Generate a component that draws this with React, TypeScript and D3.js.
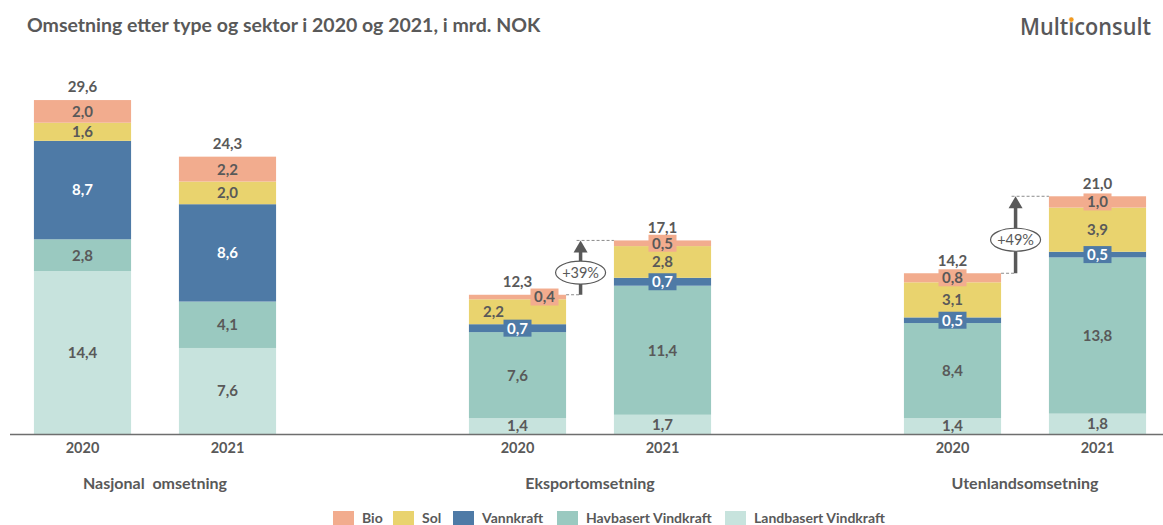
import React, { useEffect, useRef, useState } from "react";
import * as d3 from "d3";

const title = "Omsetning etter type og sektor i 2020 og 2021, i mrd. NOK";
const categories = ["Nasjonal  omsetning", "Eksportomsetning", "Utenlandsomsetning"];
const years = ["2020", "2021"];
const seriesNames = ["Landbasert Vindkraft", "Havbasert Vindkraft", "Vannkraft", "Sol", "Bio"];
const landbasert = [14.4, 7.6, 1.4, 1.7, 1.4, 1.8];
const havbasert = [2.8, 4.1, 7.6, 11.4, 8.4, 13.8];
const vannkraft = [8.7, 8.6, 0.7, 0.7, 0.5, 0.5];
const sol = [1.6, 2.0, 2.2, 2.8, 3.1, 3.9];
const bio = [2.0, 2.2, 0.4, 0.5, 0.8, 1.0];
const totals = [29.6, 24.3, 12.3, 17.1, 14.2, 21.0];
const growthLabels = ["+39%", "+49%"];
const growthPairs = [[2, 3], [4, 5]];
const legendOrder = ["Bio", "Sol", "Vannkraft", "Havbasert Vindkraft", "Landbasert Vindkraft"];

const colors: Record<string, string> = {
  Bio: "#F2AC8E",
  Sol: "#E9D36E",
  Vannkraft: "#4E7AA6",
  "Havbasert Vindkraft": "#9AC9C0",
  "Landbasert Vindkraft": "#C7E3DD",
};

const W = 1163;
const H = 525;
const FONT = "Lato, 'Open Sans', sans-serif";
const TXT = "#595959";
const fmt = (v: number) => d3.format(".1f")(v).replace(".", ",");

export default function App() {
  const logoRef = useRef<SVGTextElement>(null);
  const [dot, setDot] = useState<{ x: number; y: number } | null>(null);

  useEffect(() => {
    const t = logoRef.current;
    if (t) {
      try {
        const ext = t.getExtentOfChar(4);
        setDot({ x: ext.x + ext.width / 2, y: ext.y + ext.height * 0.3 });
      } catch (e) {}
    }
  }, []);

  const seriesArrays = [landbasert, havbasert, vannkraft, sol, bio];
  const rows = landbasert.map((_, i) => {
    const r: any = { idx: i };
    seriesNames.forEach((s, k) => (r[s] = seriesArrays[k][i]));
    return r;
  });
  const stacked = d3.stack<any>().keys(seriesNames)(rows);

  const baseY = 434;
  const y = d3.scaleLinear().domain([0, 30]).range([baseY, baseY - 30 * 11.32]);
  const slotOf = [0, 1, 3, 4, 6, 7];
  const x = d3
    .scaleBand<number>()
    .domain(d3.range(8))
    .range([10, 1170])
    .paddingInner(0.33)
    .paddingOuter(0.165);
  const bw = x.bandwidth();
  const bx = (i: number) => x(slotOf[i]) as number;
  const cx = (i: number) => bx(i) + bw / 2;

  // layout nudges for crowded labels (bar index + series)
  const nudge: Record<string, number> = { "2-Bio": 27, "2-Sol": -24 };

  const boxW = 28;
  const boxH = 17;

  return (
    <div style={{ position: "absolute", left: 0, top: 0 }}>
      <svg width={W} height={H} style={{ display: "block", background: "#fff" }} fontFamily={FONT}>
        <text x={27} y={32} fontSize={19.5} fontWeight={700} fill={TXT}>
          {title}
        </text>
        <text
          ref={logoRef}
          x={1020}
          y={35}
          fontSize={23}
          fontWeight={600}
          fill="#58585A"
          fontFamily="'Open Sans', sans-serif"
          textLength={131}
          lengthAdjust="spacingAndGlyphs"
        >
          Multiconsult
        </text>
        {dot && <circle cx={dot.x} cy={dot.y} r={2.6} fill="#F39A1E" stroke="#fff" strokeWidth={0.6} />}

        {/* bars */}
        {stacked.map((layer) =>
          layer.map((d, i) => (
            <rect
              key={layer.key + i}
              x={bx(i)}
              width={bw}
              y={y(d[1])}
              height={y(d[0]) - y(d[1])}
              fill={colors[layer.key]}
            />
          ))
        )}

        {/* axis */}
        <line x1={10} x2={W} y1={baseY + 0.5} y2={baseY + 0.5} stroke="#6E6E6E" strokeWidth={1.3} />

        {/* segment labels */}
        {stacked.map((layer) =>
          layer.map((d, i) => {
            const v = d[1] - d[0];
            const mid = (y(d[0]) + y(d[1])) / 2;
            const lx = cx(i) + (nudge[i + "-" + layer.key] || 0);
            const boxed = v < 1.2;
            const white = layer.key === "Vannkraft";
            return (
              <g key={"l" + layer.key + i}>
                {boxed && (
                  <rect
                    x={lx - boxW / 2}
                    y={mid - boxH / 2}
                    width={boxW}
                    height={boxH}
                    fill={colors[layer.key]}
                  />
                )}
                <text
                  x={lx}
                  y={mid}
                  dy="0.36em"
                  textAnchor="middle"
                  fontSize={15}
                  fontWeight={700}
                  fill={white ? "#FFFFFF" : TXT}
                >
                  {fmt(v)}
                </text>
              </g>
            );
          })
        )}

        {/* totals */}
        {totals.map((t, i) => {
          const top = y(stacked[stacked.length - 1][i][1]);
          return (
            <text
              key={"t" + i}
              x={cx(i)}
              y={top - 13}
              dy="0.36em"
              textAnchor="middle"
              fontSize={15}
              fontWeight={700}
              fill={TXT}
            >
              {fmt(t)}
            </text>
          );
        })}

        {/* growth arrows */}
        {growthPairs.map(([a, b], k) => {
          const yA = y(totals[a]);
          const yB = y(totals[b]);
          const ax = bx(a) + bw + 14.5;
          const ey = (yA + yB) / 2 + 5;
          return (
            <g key={"g" + k}>
              <line x1={bx(a) + bw} x2={ax} y1={yA} y2={yA} stroke="#8C8C8C" strokeDasharray="3,2" />
              <line x1={ax - 4} x2={bx(b)} y1={yB} y2={yB} stroke="#8C8C8C" strokeDasharray="3,2" />
              <line x1={ax} x2={ax} y1={yA} y2={yB + 10} stroke="#595959" strokeWidth={3.5} />
              <path d={`M${ax},${yB} L${ax - 7},${yB + 12} L${ax + 7},${yB + 12} Z`} fill="#595959" />
              <ellipse cx={ax} cy={ey} rx={25} ry={11.5} fill="#fff" stroke="#595959" strokeWidth={1.2} />
              <text x={ax} y={ey} dy="0.36em" textAnchor="middle" fontSize={14.5} fill={TXT}>
                {growthLabels[k]}
              </text>
            </g>
          );
        })}

        {/* year labels */}
        {totals.map((_, i) => (
          <text
            key={"y" + i}
            x={cx(i)}
            y={448}
            dy="0.36em"
            textAnchor="middle"
            fontSize={14.5}
            fontWeight={700}
            fill={TXT}
          >
            {years[i % 2]}
          </text>
        ))}

        {/* category labels */}
        {categories.map((c, g) => (
          <text
            key={"c" + g}
            x={(cx(g * 2) + cx(g * 2 + 1)) / 2}
            y={483}
            dy="0.36em"
            textAnchor="middle"
            fontSize={16}
            fontWeight={700}
            fill={TXT}
            style={{ whiteSpace: "pre" }}
          >
            {c}
          </text>
        ))}

        {/* legend */}
        {(() => {
          const legendX = [333, 393, 453, 557, 725];
          return legendOrder.map((s, k) => (
            <g key={"lg" + s}>
              <rect x={legendX[k]} y={511} width={21} height={15} fill={colors[s]} />
              <text x={legendX[k] + 29} y={518} dy="0.36em" fontSize={14} fontWeight={700} fill={TXT}>
                {s}
              </text>
            </g>
          ));
        })()}
      </svg>
    </div>
  );
}
